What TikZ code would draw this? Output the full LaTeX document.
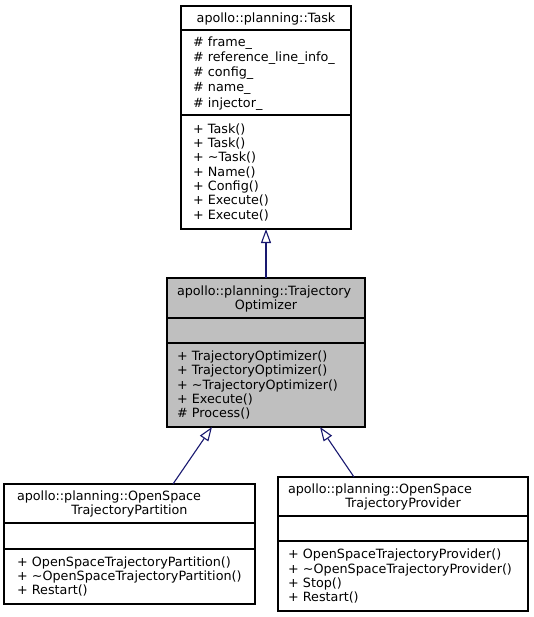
\documentclass[tikz,border=0pt]{standalone}
\usepackage{fontspec}
\newfontfamily\dvs{DejaVu Sans}
\usetikzlibrary{arrows.meta,calc}
\newcommand\lnst{\rule[-3pt]{0pt}{14.3pt}}
\definecolor{edgeblue}{RGB}{25,25,112}
\definecolor{fillgray}{RGB}{191,191,191}
\begin{document}
\begin{tikzpicture}[x=1pt,y=-1pt,
  fld/.style={draw=black, line width=1.1pt, anchor=north west, inner ysep=0pt, outer sep=0pt,
    font=\dvs\fontsize{12.75pt}{14.3pt}\selectfont},
  taskbox/.style={fld, text width=146pt, inner xsep=12pt},
  optbox/.style={fld, fill=fillgray, text width=178pt, inner xsep=10pt},
  partbox/.style={fld, text width=225pt, inner xsep=13pt},
  provbox/.style={fld, text width=230pt, inner xsep=10pt},
  inh/.style={draw=edgeblue, line width=1.1pt, -{Triangle[length=14pt, width=10pt, fill=white]}}
]
\useasboundingbox (0,0) rectangle (533,617);

% apollo::planning::Task
\node[taskbox, minimum height=24pt, align=center] (task-t) at (181,6) {\lnst apollo::planning::Task};
\node[taskbox, minimum height=85pt, align=left] (task-a) at (181,30)
  {\lnst\# frame\textunderscore\\
   \lnst\# reference\textunderscore line\textunderscore info\textunderscore\\
   \lnst\# config\textunderscore\\
   \lnst\# name\textunderscore\\
   \lnst\# injector\textunderscore};
\node[taskbox, minimum height=114pt, align=left] (task-m) at (181,115)
  {\lnst+ Task()\\
   \lnst+ Task()\\
   \lnst+ \textasciitilde Task()\\
   \lnst+ Name()\\
   \lnst+ Config()\\
   \lnst+ Execute()\\
   \lnst+ Execute()};

% apollo::planning::TrajectoryOptimizer
\node[optbox, minimum height=40pt, align=center] (to-t) at (167,278)
  {\makebox[178pt][l]{\lnst apollo::planning::Trajectory}\\\lnst Optimizer};
\node[optbox, minimum height=25pt] (to-e) at (167,318) {};
\node[optbox, minimum height=84pt, align=left] (to-m) at (167,343)
  {\lnst+ TrajectoryOptimizer()\\
   \lnst+ TrajectoryOptimizer()\\
   \lnst+ \textasciitilde TrajectoryOptimizer()\\
   \lnst+ Execute()\\
   \lnst\# Process()};

% apollo::planning::OpenSpaceTrajectoryPartition
\node[partbox, minimum height=39pt, align=center] (lp-t) at (4,484)
  {\makebox[225pt][l]{\lnst apollo::planning::OpenSpace}\\\lnst TrajectoryPartition};
\node[partbox, minimum height=26pt] (lp-e) at (4,523) {};
\node[partbox, minimum height=55pt, align=left] (lp-m) at (4,549)
  {\lnst+ OpenSpaceTrajectoryPartition()\\
   \lnst+ \textasciitilde OpenSpaceTrajectoryPartition()\\
   \lnst+ Restart()};

% apollo::planning::OpenSpaceTrajectoryProvider
\node[provbox, minimum height=39pt, align=center] (rp-t) at (278,477)
  {\makebox[230pt][l]{\lnst apollo::planning::OpenSpace}\\\lnst TrajectoryProvider};
\node[provbox, minimum height=25pt] (rp-e) at (278,516) {};
\node[provbox, minimum height=70pt, align=left] (rp-m) at (278,541)
  {\lnst+ OpenSpaceTrajectoryProvider()\\
   \lnst+ \textasciitilde OpenSpaceTrajectoryProvider()\\
   \lnst+ Stop()\\
   \lnst+ Restart()};

% inheritance connectors
\draw[inh] (to-t.north) -- (task-m.south);
\draw[inh] ([xshift=169pt]lp-t.north west) -- ([xshift=45pt]to-m.south west);
\draw[inh] ([xshift=76pt]rp-t.north west) -- ([xshift=153pt]to-m.south west);
\end{tikzpicture}
\end{document}
